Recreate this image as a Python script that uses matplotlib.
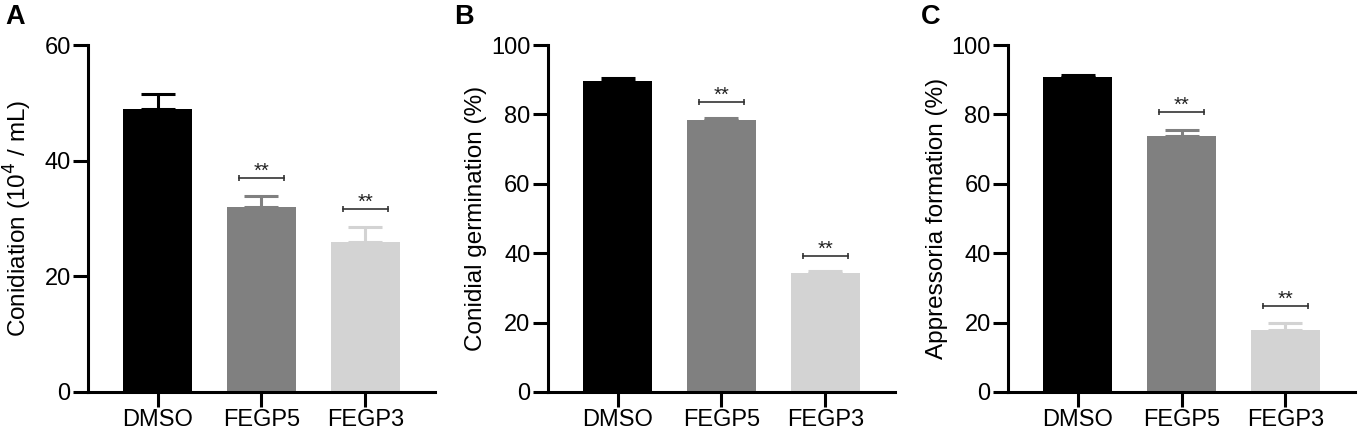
import matplotlib
matplotlib.use("Agg")
import matplotlib.pyplot as plt
import numpy as np

plt.rcParams['font.family'] = ['Liberation Sans', 'DejaVu Sans']

groups = ["DMSO", "FEGP5", "FEGP3"]
colors = ["#000000", "#808080", "#d3d3d3"]

a_mean = [49.0, 32.0, 25.9]
a_err = [2.6, 1.9, 2.7]
a_sig = [37.0, 31.7]

b_mean = [89.7, 78.3, 34.4]
b_err = [0.9, 0.6, 0.6]
b_sig = [83.7, 39.2]

c_mean = [90.9, 73.8, 17.9]
c_err = [0.4, 1.7, 1.9]
c_sig = [80.8, 24.8]

panels = [
    ("A", a_mean, a_err, a_sig, 60, [0, 20, 40, 60], "Conidiation (10$^{4}$ / mL)", 0.0648, -0.155, (0.011, 0.960)),
    ("B", b_mean, b_err, b_sig, 100, [0, 20, 40, 60, 80, 100], "Conidial germination (%)", 0.4035, -0.177, (0.3417, 0.960)),
    ("C", c_mean, c_err, c_sig, 100, [0, 20, 40, 60, 80, 100], "Appressoria formation (%)", 0.7423, -0.174, (0.6856, 0.960)),
]

fig = plt.figure(figsize=(13.58, 4.34), dpi=100)
lw = 2.2
for letter, mean, err, sig, ymax, yticks, ylabel, left, lblx, lpos in panels:
    ax = fig.add_axes([left, 0.0968, 0.2555, 0.7995])
    x = np.arange(len(groups))
    ax.bar(x, mean, width=0.665, color=colors, zorder=2)
    for xi, m, e, c in zip(x, mean, err, colors):
        ax.errorbar(xi, m, yerr=[[0], [e]], fmt='none', ecolor=c, elinewidth=lw,
                    capsize=12.5, capthick=lw, zorder=3)
    for xi, s in zip([1, 2], sig):
        ax.plot([xi - 0.215, xi + 0.215], [s, s], color="#333333", lw=1.2, zorder=4)
        ax.plot([xi - 0.215, xi + 0.215], [s, s], ls='none', marker='|', ms=5, mew=1.2, color="#333333")
        ax.annotate("**", (xi, s), xytext=(0, 0.8), textcoords='offset points',
                    ha='center', va='baseline', fontsize=14.5, color="#222222")
    ax.set_xlim(-0.67, 2.67)
    ax.set_ylim(0, ymax)
    ax.set_yticks(yticks)
    ax.set_xticks(x)
    ax.set_xticklabels(groups)
    for sp in ['top', 'right']:
        ax.spines[sp].set_visible(False)
    for sp in ['left', 'bottom']:
        ax.spines[sp].set_linewidth(lw)
    ax.tick_params(axis='both', length=10.5, width=lw, labelsize=17, pad=2)
    ax.tick_params(axis='x', pad=2)
    ax.set_ylabel(ylabel, fontsize=17.5)
    ax.yaxis.set_label_coords(lblx, 0.5)
    fig.text(lpos[0], lpos[1], letter, fontsize=19.5, fontweight='bold', ha='center', va='center')

fig.savefig("out.png", dpi=100)
